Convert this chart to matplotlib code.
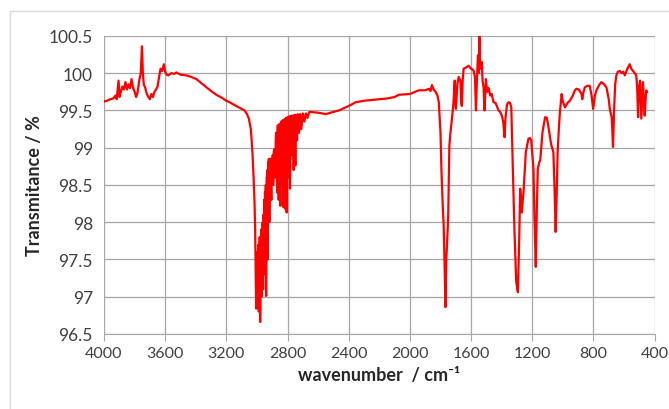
import matplotlib
matplotlib.use('Agg')
from matplotlib import pyplot as plt
from matplotlib.patches import Rectangle

# IR spectrum: wavenumber (cm-1) and transmittance (%)
wavenumber = [
    4000, 3980, 3960, 3940, 3925, 3917, 3910, 3905, 3898, 3890, 3880, 3870,
    3860, 3850, 3840, 3830, 3820, 3810, 3800, 3790, 3780, 3770, 3760, 3752,
    3746, 3740, 3730, 3720, 3710, 3700, 3690, 3680, 3670, 3660, 3650, 3640,
    3630, 3620, 3609, 3600, 3590, 3580, 3560, 3540, 3527, 3500, 3461, 3430,
    3396, 3360, 3331, 3300, 3266, 3230, 3201, 3170, 3136, 3100, 3081, 3065,
    3053, 3040, 3030, 3022, 3016, 3012, 3008, 3005, 3002, 3000, 2998, 2996,
    2994, 2992, 2990, 2988, 2986, 2984, 2982, 2979, 2977, 2975, 2972, 2970,
    2968, 2966, 2963, 2960, 2958, 2955, 2952, 2950, 2948, 2945, 2942, 2940,
    2937, 2935, 2932, 2930, 2927, 2925, 2922, 2919, 2916, 2913, 2910, 2906,
    2903, 2900, 2897, 2894, 2890, 2886, 2883, 2880, 2877, 2875, 2871, 2868,
    2864, 2858, 2853, 2847, 2842, 2836, 2831, 2826, 2821, 2816, 2811, 2806,
    2800, 2795, 2789, 2784, 2778, 2772, 2766, 2760, 2755, 2749, 2744, 2738,
    2733, 2725, 2718, 2710, 2700, 2690, 2680, 2670, 2658, 2600, 2550, 2500,
    2463, 2400, 2354, 2300, 2250, 2200, 2150, 2100, 2072, 2000, 1942, 1900,
    1876, 1865, 1856, 1845, 1832, 1820, 1811, 1800, 1794, 1785, 1779, 1772,
    1768, 1762, 1755, 1750, 1742, 1735, 1725, 1715, 1707, 1703, 1699, 1690,
    1681, 1670, 1665, 1660, 1655, 1649, 1630, 1616, 1600, 1590, 1583, 1575,
    1568, 1562, 1555, 1550, 1546, 1542, 1538, 1530, 1525, 1518, 1512, 1503,
    1495, 1485, 1475, 1465, 1453, 1440, 1430, 1420, 1410, 1399, 1390, 1381,
    1375, 1365, 1355, 1345, 1337, 1327, 1316, 1305, 1294, 1285, 1279, 1273,
    1268, 1262, 1257, 1242, 1225, 1215, 1207, 1192, 1185, 1177, 1170, 1164,
    1155, 1148, 1133, 1116, 1105, 1099, 1085, 1077, 1062, 1055, 1047, 1040,
    1034, 1025, 1019, 1008, 1000, 986, 970, 954, 935, 921, 911, 895,
    878, 873, 865, 856, 840, 824, 812, 802, 790, 780, 760, 747,
    730, 715, 700, 693, 680, 672, 665, 658, 650, 640, 628, 615,
    605, 595, 580, 563, 550, 541, 530, 520, 514, 508, 503, 495,
    487, 480, 476, 470, 465, 460, 455, 450,
]
transmittance = [
    99.62, 99.63, 99.65, 99.66, 99.70, 99.65, 99.80, 99.90, 99.68, 99.75, 99.82, 99.78,
    99.88, 99.78, 99.85, 99.80, 99.92, 99.80, 99.75, 99.68, 99.75, 99.90, 100.00, 100.36,
    100.00, 99.85, 99.80, 99.72, 99.68, 99.65, 99.72, 99.68, 99.75, 99.78, 99.82, 99.95,
    100.06, 100.03, 100.12, 100.02, 99.98, 99.97, 100.00, 99.99, 100.01, 99.98, 99.97, 99.95,
    99.92, 99.86, 99.81, 99.76, 99.71, 99.67, 99.63, 99.60, 99.56, 99.52, 99.50, 99.45,
    99.39, 99.25, 98.95, 98.60, 98.27, 97.90, 97.30, 96.84, 97.40, 97.20, 97.60, 96.90,
    97.50, 97.30, 97.70, 96.80, 97.40, 97.10, 97.80, 96.66, 97.30, 97.20, 97.90, 97.00,
    97.80, 97.60, 98.00, 97.10, 98.10, 97.90, 98.30, 97.30, 98.40, 98.30, 98.50, 97.01,
    98.60, 98.60, 98.70, 97.50, 98.80, 98.80, 98.85, 98.00, 98.85, 98.85, 98.60, 98.30,
    98.80, 98.80, 98.90, 98.50, 98.95, 98.98, 98.70, 98.60, 99.10, 99.20, 98.80, 98.40,
    99.30, 98.30, 99.32, 98.22, 99.35, 98.50, 99.37, 98.20, 99.38, 98.18, 99.40, 98.13,
    99.41, 98.60, 99.42, 98.45, 99.43, 98.90, 99.43, 98.70, 99.44, 98.76, 99.44, 99.10,
    99.45, 99.20, 99.45, 99.25, 99.46, 99.35, 99.46, 99.40, 99.48, 99.47, 99.45, 99.48,
    99.50, 99.56, 99.61, 99.63, 99.64, 99.65, 99.66, 99.68, 99.71, 99.72, 99.77, 99.77,
    99.79, 99.76, 99.84, 99.78, 99.75, 99.70, 99.61, 99.20, 98.71, 98.20, 97.95, 97.30,
    96.86, 97.50, 97.80, 98.04, 99.03, 99.20, 99.39, 99.60, 99.90, 99.60, 99.52, 99.85,
    99.95, 99.90, 99.60, 99.56, 99.90, 100.06, 100.08, 100.10, 100.06, 100.05, 100.03, 99.95,
    99.50, 99.90, 100.24, 100.00, 100.50, 100.20, 100.06, 100.15, 99.90, 99.80, 99.50, 99.92,
    99.75, 99.80, 99.70, 99.72, 99.61, 99.60, 99.55, 99.50, 99.48, 99.43, 99.35, 99.14,
    99.40, 99.58, 99.61, 99.60, 99.54, 98.71, 97.87, 97.20, 97.06, 97.80, 98.45, 98.30,
    98.13, 98.30, 98.41, 98.94, 99.12, 99.13, 99.10, 98.71, 98.00, 97.40, 98.20, 98.71,
    98.80, 98.83, 99.21, 99.41, 99.40, 99.34, 99.15, 99.05, 98.94, 98.50, 97.87, 98.40,
    98.94, 99.30, 99.48, 99.72, 99.62, 99.54, 99.60, 99.63, 99.70, 99.77, 99.79, 99.78,
    99.72, 99.65, 99.75, 99.81, 99.83, 99.83, 99.70, 99.52, 99.70, 99.77, 99.85, 99.88,
    99.85, 99.81, 99.65, 99.52, 99.40, 99.01, 99.50, 99.85, 99.97, 100.02, 100.03, 100.00,
    100.02, 99.97, 100.05, 100.12, 100.05, 100.03, 100.00, 99.97, 99.80, 99.41, 99.80, 99.90,
    99.39, 99.70, 99.88, 99.60, 99.43, 99.60, 99.77, 99.75,
]

x_ticks = [4000, 3600, 3200, 2800, 2400, 2000, 1600, 1200, 800, 400]
y_ticks = [96.5, 97, 97.5, 98, 98.5, 99, 99.5, 100, 100.5]

plt.rcParams['font.family'] = ['Lato', 'DejaVu Sans']

fig = plt.figure(figsize=(6.69, 4.10), dpi=100)
ax = fig.add_axes([0.1555, 0.183, 0.823, 0.727])

# light outer frame, only its top and left edges fall inside the image
fig.patches.append(Rectangle((10 / 669, -0.05), 1.0, 398 / 410 + 0.05,
                             transform=fig.transFigure, fill=False,
                             edgecolor='#d9d9d9', linewidth=1))

ax.plot(wavenumber, transmittance, c='#ff0000', linewidth=1.6)

ax.set_xlim(4000, 400)
ax.set_ylim(96.5, 100.5)
ax.set_xticks(x_ticks)
ax.set_yticks(y_ticks)
ax.set_xticklabels([str(t) for t in x_ticks])
ax.set_yticklabels([f'{t:g}' for t in y_ticks])

ax.grid(True, color='#a6a6a6', linewidth=0.9)
ax.set_axisbelow(True)
for side in ['top', 'right', 'left']:
    ax.spines[side].set_visible(False)
ax.spines['bottom'].set_color('#a6a6a6')
ax.tick_params(axis='x', colors='#a6a6a6', length=5, labelcolor='#404040', labelsize=11.5, pad=4)
ax.tick_params(axis='y', colors='#a6a6a6', length=0, labelcolor='#404040', labelsize=12.5, pad=8)

ax.set_xlabel('wavenumber  / cm\u207b\u00b9', fontsize=13, fontweight='bold', color='#262626')
ax.set_ylabel('Transmitance / %', fontsize=13, fontweight='bold', color='#262626', labelpad=4)

plt.savefig('out.png', dpi=100)
